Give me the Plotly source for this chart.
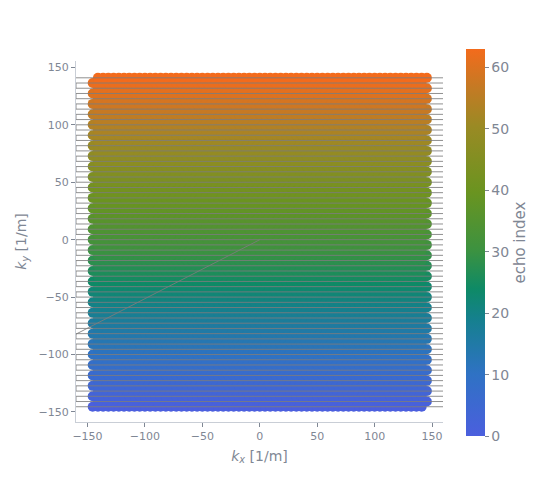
import plotly.graph_objects as go

# k-space grid positions [1/m] (64 samples, FOV 0.22 m)
k_grid = [
    -145.45, -140.91, -136.36, -131.82, -127.27, -122.73, -118.18, -113.64,
    -109.09, -104.55, -100.00, -95.45, -90.91, -86.36, -81.82, -77.27,
    -72.73, -68.18, -63.64, -59.09, -54.55, -50.00, -45.45, -40.91,
    -36.36, -31.82, -27.27, -22.73, -18.18, -13.64, -9.09, -4.55,
    0.00, 4.55, 9.09, 13.64, 18.18, 22.73, 27.27, 31.82,
    36.36, 40.91, 45.45, 50.00, 54.55, 59.09, 63.64, 68.18,
    72.73, 77.27, 81.82, 86.36, 90.91, 95.45, 100.00, 104.55,
    109.09, 113.64, 118.18, 122.73, 127.27, 131.82, 136.36, 140.91,
]
ky_echo = k_grid
echo_index = list(range(64))

# readout ramp ends and prephaser path
readout_edge = 160.0
prephase_kx = [0.0, -283.0]
prephase_ky = [0.0, -145.45]

# samples: every other echo is read in reverse
sample_kx, sample_ky, sample_echo = [], [], []
for i, ky in zip(echo_index, ky_echo):
    row = k_grid if i % 2 == 0 else [-k for k in k_grid]
    sample_kx += row
    sample_ky += [ky] * len(row)
    sample_echo += [i] * len(row)

# gradient trajectory
traj_x = list(prephase_kx)
traj_y = list(prephase_ky)
for i, ky in zip(echo_index, ky_echo):
    a, b = (-readout_edge, readout_edge) if i % 2 == 0 else (readout_edge, -readout_edge)
    traj_x += [a, b]
    traj_y += [ky, ky]

colorscale = [
    [0.0, "#4b5fde"],
    [0.16, "#2f72c4"],
    [0.30, "#15808f"],
    [0.38, "#0e8a66"],
    [0.48, "#3c9240"],
    [0.63, "#6a9420"],
    [0.80, "#9a8a24"],
    [0.90, "#c47a24"],
    [1.0, "#f36b1c"],
]

font_col = "#7f8794"
line_col = "#c9ced6"
family = "DejaVu Sans"

fig = go.Figure()

fig.add_trace(go.Scatter(
    x=sample_kx, y=sample_ky, mode="markers",
    marker=dict(
        size=10, color=sample_echo, colorscale=colorscale, cmin=0, cmax=63,
        line=dict(width=0),
        colorbar=dict(
            title=dict(text="echo index", side="right", font=dict(size=15, color=font_col)),
            thickness=19, lenmode="pixels", len=387, y=0.497, yanchor="middle",
            x=1.063, xanchor="left", xpad=0, ypad=0, outlinewidth=0,
            ticks="outside", ticklen=4, tickcolor=font_col,
            tickfont=dict(size=14, color=font_col), dtick=10,
        ),
    ),
    showlegend=False,
))

fig.add_trace(go.Scatter(
    x=traj_x, y=traj_y, mode="lines",
    line=dict(color="rgba(125,125,125,0.85)", width=1),
    showlegend=False,
))

axis_style = dict(
    showline=True, linecolor=line_col, linewidth=1,
    ticks="outside", ticklen=4, tickcolor=font_col,
    tickfont=dict(size=11, color=font_col),
    showgrid=False, zeroline=False, dtick=50,
)

fig.update_layout(
    width=550, height=500,
    margin=dict(l=68, r=115, t=53, b=86, autoexpand=False),
    paper_bgcolor="white", plot_bgcolor="white",
    font=dict(family=family, color=font_col),
    xaxis=dict(range=[-160, 159.5],
               title=dict(text="<i>k<sub>x</sub></i> [1/m]", standoff=8,
                          font=dict(size=14, color=font_col)),
               **axis_style),
    yaxis=dict(range=[-158.7, 155.5], scaleanchor="x", scaleratio=1,
               title=dict(text="<i>k<sub>y</sub></i> [1/m]", standoff=8,
                          font=dict(size=14, color=font_col)),
               **axis_style),
)

fig.write_html("out.html")
